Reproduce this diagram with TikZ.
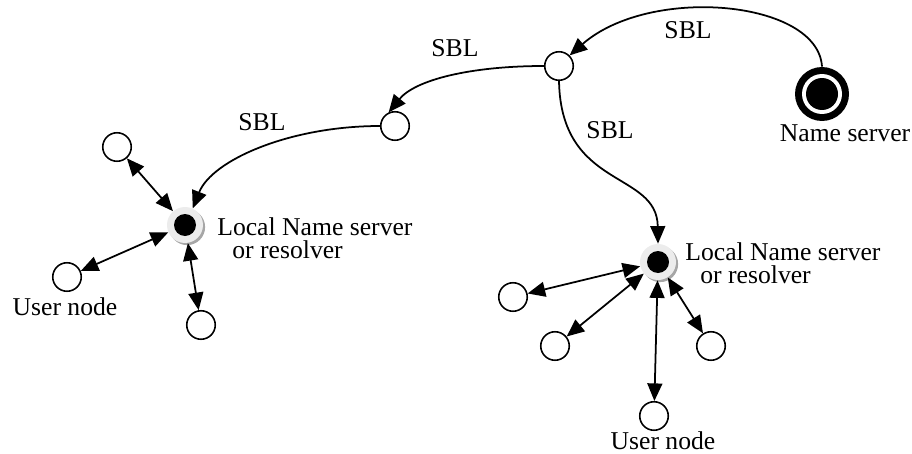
\documentclass[tikz,border=0pt]{standalone}
\usepackage{fontspec}
\setmainfont{Liberation Serif}
\usepackage{xcolor}
\usepackage{tikz}
\usetikzlibrary{shapes,arrows.meta,shadows}

\begin{document}
\begin{tikzpicture}[x=0.02cm, y=-0.02cm, font=\fontsize{14.6pt}{17pt}\selectfont]
\tikzstyle{user}=[draw, circle, line width=0.9pt, fill=white, minimum size=0.57cm, inner sep=0pt]
\tikzstyle{local}=[circle, fill=gray!15, minimum size=0.72cm, inner sep=0pt, drop shadow={shadow xshift=1.2pt, shadow yshift=-1.2pt, fill=gray!70, opacity=1}, path picture={\fill[black] (path picture bounding box.center) circle (0.22cm);}]
\tikzstyle{sbl}=[-{Triangle[length=10pt,width=8.5pt]}, line width=1pt]
\tikzstyle{link}=[{Triangle[length=10pt,width=8.5pt]}-{Triangle[length=10pt,width=8.5pt]}, line width=1pt]
\tikzstyle{txt}=[inner sep=0pt, anchor=base west]
\useasboundingbox (0,0) rectangle (912,453);
% name server and the relay nodes
\node[circle, fill=black, minimum size=1.08cm, inner sep=0pt] (NS) at (822,94) {};
\fill[white] (NS.center) circle (0.4cm);
\fill[black] (NS.center) circle (0.32cm);
\node (NSlabel) at (845,133) {Name server};
\node[user] (A) at (559,66) {};
\node[user] (B) at (395,126) {};
% local name servers
\node[local] (L1) at (185,225) {};
\node[local] (L2) at (658,262) {};
\node[txt] (L1a) at (217,235) {Local Name server};
\node[txt] (L1b) at (232,258) {or resolver};
\node[txt] (L2a) at (685,260) {Local Name server};
\node[txt] (L2b) at (700,283) {or resolver};
% user nodes
\node[user] (u1) at (117,147) {};
\node[user] (u2) at (67,277) {};
\node[user] (u3) at (201,325) {};
\node (u2label) at (65,307) {User node};
\node[user] (v1) at (513,297) {};
\node[user] (v2) at (555,346) {};
\node[user] (v3) at (654,416) {};
\node[user] (v4) at (711,346) {};
\node (v3label) at (663,441) {User node};
% SBL links
\draw[sbl] (NS.north) .. controls (818,0) and (650,-15) .. (A.north east);
\draw[sbl] (A.west) .. controls (470,66) and (415,80) .. (B.115);
\draw[sbl] (B.west) .. controls (290,126) and (212,160) .. (L1.65);
\draw[sbl] (A.south) .. controls (561,190) and (657,170) .. (L2.north);
\node (s1) at (688,30) {SBL};
\node (s2) at (455,48) {SBL};
\node (s3) at (262,122) {SBL};
\node (s4) at (610,130) {SBL};
% queries
\foreach \u in {u1,u2,u3} \draw[link] (L1) -- (\u);
\foreach \v in {v1,v2,v3,v4} \draw[link] (L2) -- (\v);
\end{tikzpicture}
\end{document}
